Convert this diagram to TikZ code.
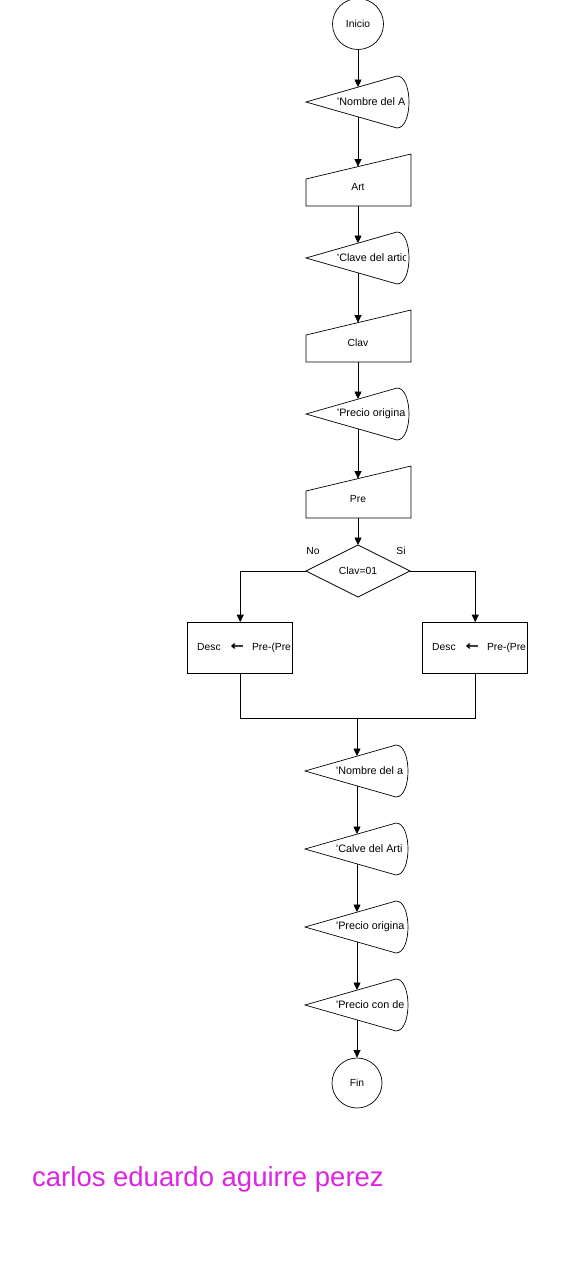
\documentclass[tikz,border=0pt]{standalone}
\usepackage{fontspec}
\usepackage{graphicx}
\setmainfont{Liberation Sans}
\newfontfamily\arrowfont{DejaVu Sans}
\usetikzlibrary{arrows.meta}
\definecolor{namecol}{RGB}{220,36,226}
\tikzset{
  shp/.style={draw=black,line width=0.7pt},
  arr/.style={draw=black,line width=0.7pt,-{Triangle[length=7.5pt,width=7pt]}},
  ln/.style={draw=black,line width=0.7pt},
  txt/.style={inner sep=0pt,font=\fontsize{10.3}{12}\selectfont},
  dtxt/.style={inner sep=0pt,font=\fontsize{10.8}{12}\selectfont},
  termnode/.style={circle,draw=black,line width=0.7pt,minimum size=51pt,inner sep=0pt,font=\fontsize{10.3}{12}\selectfont},
}
\newcommand\dispbox[4]{%
  \begin{scope}
    \clip (#2-52,#3-26) rectangle (#2+47,#3+26);
    \clip (#2-52,#3) -- (#2+39,#3-26) .. controls (#2+55,#3-26) and (#2+55,#3+26) .. (#2+39,#3+26) -- cycle;
    \node[dtxt,anchor=west] (#1) at (#2-21,#3) {#4};
  \end{scope}
  \draw[shp] (#2-52,#3) -- (#2+39,#3-26) .. controls (#2+55,#3-26) and (#2+55,#3+26) .. (#2+39,#3+26) -- cycle;
  \coordinate (#1-t) at (#2,#3-15);
  \coordinate (#1-b) at (#2,#3+15);
}
\newcommand\manbox[4]{%
  \draw[shp] (#2-52,#3-1) -- (#2+53,#3-26) -- (#2+53,#3+26) -- (#2-52,#3+26) -- cycle;
  \node[txt] (#1) at (#2,#3+7) {#4};
  \coordinate (#1-t) at (#2,#3-13.4);
  \coordinate (#1-b) at (#2,#3+26);
}
\newcommand\procbox[3]{%
  \begin{scope}
    \clip (#2-52,648-25.5) rectangle (#2+50,648+25.5);
    \node[txt,anchor=west] (#1-txt) at (#2-43,648) {Desc\hspace{10pt}\raisebox{0.3pt}{\scalebox{1.55}[1.25]{\arrowfont\bfseries ←}}\hspace{8pt}Pre-(Pre};
  \end{scope}
  \node[draw=black,line width=0.7pt,minimum width=105pt,minimum height=51pt,inner sep=0pt] (#1) at (#2+0.25,648) {};
}
\begin{document}
\begin{tikzpicture}[x=1pt,y=-1pt]
\fill[white] (0,0) rectangle (588,1280);
\useasboundingbox (0,0) rectangle (588,1280);

\node[termnode] (ini) at (358,24) {Inicio};
\dispbox{d1}{358}{102}{\textquotesingle Nombre del A}
\manbox{m1}{358}{180}{Art}
\dispbox{d2}{358}{258}{\textquotesingle Clave del artic}
\manbox{m2}{358}{336}{Clav}
\dispbox{d3}{358}{414}{\textquotesingle Precio origina}
\manbox{m3}{358}{492}{Pre}

% decision
\draw[shp] (358,545) -- (410,571) -- (358,597) -- (306,571) -- cycle;
\node[txt] (dec) at (358,571) {Clav=01};
\coordinate (dec-t) at (358,545);
\coordinate (dec-l) at (306,571);
\coordinate (dec-r) at (410,571);
\node[txt] (no) at (313,551) {No};
\node[txt] (si) at (401,551) {Si};

\procbox{pL}{240}{}
\procbox{pR}{475}{}

\coordinate (jL) at (240.25,718);
\coordinate (jR) at (475.25,718);
\coordinate (jM) at (357,718);

\dispbox{d4}{357}{771}{\textquotesingle Nombre del a}
\dispbox{d5}{357}{849}{\textquotesingle Calve del Arti}
\dispbox{d6}{357}{927}{\textquotesingle Precio origina}
\dispbox{d7}{357}{1005}{\textquotesingle Precio con de}
\node[termnode,minimum size=50pt] (fin) at (357,1083) {Fin};

\node[anchor=base west,inner sep=0pt,text=namecol,font=\fontsize{27.5}{30}\selectfont] (name) at (32,1186) {carlos eduardo aguirre perez};

% connectors
\draw[arr] (ini) -- (d1-t);
\draw[arr] (d1-b) -- (m1-t);
\draw[arr] (m1-b) -- (d2-t);
\draw[arr] (d2-b) -- (m2-t);
\draw[arr] (m2-b) -- (d3-t);
\draw[arr] (d3-b) -- (m3-t);
\draw[arr] (m3-b) -- (dec-t);
\draw[arr] (dec-l) -| (pL.north);
\draw[arr] (dec-r) -| (pR.north);
\draw[ln] (pL.south) -- (jL) -- (jR) -- (pR.south);
\draw[arr] (jM) -- (d4-t);
\draw[arr] (d4-b) -- (d5-t);
\draw[arr] (d5-b) -- (d6-t);
\draw[arr] (d6-b) -- (d7-t);
\draw[arr] (d7-b) -- (fin);
\end{tikzpicture}
\end{document}
